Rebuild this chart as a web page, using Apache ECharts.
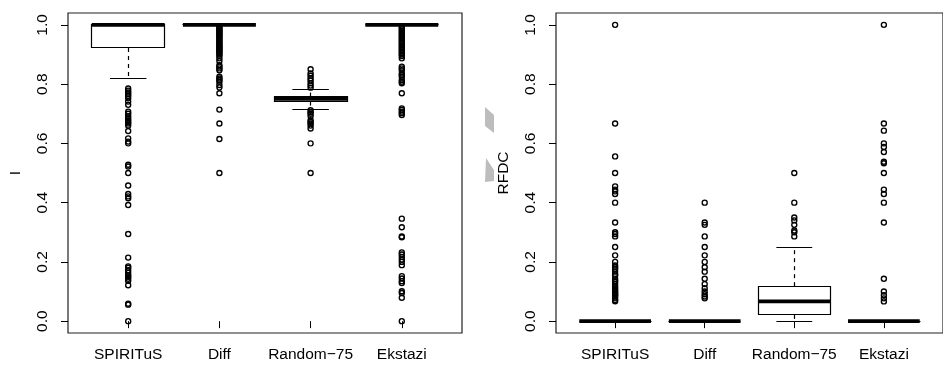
<!DOCTYPE html>
<html>
<head>
<meta charset="utf-8">
<script src="https://cdn.jsdelivr.net/npm/echarts@6/dist/echarts.min.js"></script>
<style>
html,body{margin:0;padding:0;background:#fff;}
#chart{width:943px;height:365px;}
</style>
</head>
<body>
<div id="chart"></div>
<script>
// ---- data ----
const categories = ['SPIRITuS', 'Diff', 'Random\u221275', 'Ekstazi'];
const yTicks = [0.0, 0.2, 0.4, 0.6, 0.8, 1.0];

// Left panel: I  (whisker low, Q1, median, Q3, whisker high)
const iLow  = [0.818, 1.0, 0.715, 1.0];
const iQ1   = [0.922, 1.0, 0.741, 1.0];
const iMed  = [1.0,   1.0, 0.750, 1.0];
const iQ3   = [1.0,   1.0, 0.758, 1.0];
const iHigh = [1.0,   1.0, 0.782, 1.0];

const iOutSPIRITuS = [0.785, 0.778, 0.772, 0.766, 0.76, 0.752, 0.741, 0.73, 0.707, 0.70, 0.692, 0.685, 0.678, 0.672, 0.667, 0.66, 0.642, 0.617, 0.606, 0.60, 0.528, 0.522, 0.50, 0.458, 0.429, 0.421, 0.415, 0.392, 0.294, 0.2145, 0.185, 0.18, 0.172, 0.163, 0.155, 0.15, 0.143, 0.136, 0.121, 0.0588, 0.0556, 0.0];
const iOutDiff = [0.995, 0.99, 0.986, 0.982, 0.978, 0.975, 0.971, 0.967, 0.963, 0.96, 0.955, 0.95, 0.946, 0.941, 0.937, 0.933, 0.929, 0.925, 0.921, 0.917, 0.913, 0.909, 0.905, 0.9, 0.895, 0.887, 0.878, 0.864, 0.859, 0.853, 0.847, 0.825, 0.819, 0.814, 0.808, 0.797, 0.789, 0.769, 0.714, 0.667, 0.615, 0.5];
const iOutRandom = [0.85, 0.836, 0.828, 0.82, 0.812, 0.803, 0.795, 0.788, 0.712, 0.705, 0.70, 0.692, 0.678, 0.672, 0.667, 0.66, 0.65, 0.60, 0.5];
const iOutEkstazi = [0.995, 0.99, 0.985, 0.98, 0.975, 0.97, 0.965, 0.96, 0.955, 0.95, 0.945, 0.94, 0.935, 0.93, 0.925, 0.92, 0.915, 0.91, 0.905, 0.9, 0.895, 0.887, 0.859, 0.853, 0.847, 0.836, 0.831, 0.825, 0.814, 0.808, 0.803, 0.769, 0.718, 0.713, 0.707, 0.702, 0.696, 0.346, 0.317, 0.286, 0.283, 0.232, 0.225, 0.217, 0.208, 0.2, 0.189, 0.152, 0.144, 0.135, 0.129, 0.101, 0.095, 0.079, 0.0];

// Right panel: RFDC
const rLow  = [0, 0, 0.0,   0];
const rQ1   = [0, 0, 0.021, 0];
const rMed  = [0, 0, 0.067, 0];
const rQ3   = [0, 0, 0.118, 0];
const rHigh = [0, 0, 0.25,  0];

const rOutSPIRITuS = [1.0, 0.667, 0.556, 0.5, 0.455, 0.444, 0.438, 0.429, 0.4, 0.333, 0.3, 0.294, 0.286, 0.25, 0.222, 0.2, 0.188, 0.182, 0.176, 0.167, 0.158, 0.154, 0.143, 0.136, 0.133, 0.125, 0.118, 0.111, 0.105, 0.1, 0.095, 0.091, 0.087, 0.083, 0.077, 0.071, 0.067];
const rOutDiff = [0.4, 0.333, 0.325, 0.286, 0.25, 0.222, 0.2, 0.182, 0.167, 0.143, 0.125, 0.111, 0.1, 0.091, 0.083, 0.077];
const rOutRandom = [0.5, 0.4, 0.35, 0.34, 0.325, 0.306, 0.3, 0.286];
const rOutEkstazi = [1.0, 0.667, 0.643, 0.6, 0.588, 0.571, 0.538, 0.533, 0.5, 0.444, 0.429, 0.4, 0.333, 0.143, 0.1, 0.0875, 0.077, 0.0667];

// ---- chart ----
const FONT = '"Liberation Sans", Arial, Helvetica, sans-serif';
const FS = 15.5;
const boxWex = 0.8;

function boxData(lo, q1, md, q3, hi) {
  return categories.map((c, i) => [i + 1, lo[i], q1[i], md[i], q3[i], hi[i]]);
}
function outData(lists) {
  const out = [];
  lists.forEach((arr, i) => arr.forEach(v => out.push([i + 1, v])));
  return out;
}
const px = v => Math.round(v - 0.5) + 0.5;

function renderBox(params, api) {
  const x = api.value(0);
  const lo = api.value(1), q1 = api.value(2), md = api.value(3), q3 = api.value(4), hi = api.value(5);
  const bw = api.size([boxWex, 0])[0];
  const half = bw / 2;
  const c = api.coord([x, md])[0];
  const yv = v => api.coord([x, v])[1];
  const cx = px(c);
  const lineStyle = { stroke: '#000', lineWidth: 1.2, fill: null };
  const dash = { stroke: '#000', lineWidth: 1.2, lineDash: [4, 4] };
  const children = [];
  if (hi > q3) children.push({ type: 'line', shape: { x1: cx, y1: yv(q3), x2: cx, y2: yv(hi) }, style: dash });
  if (lo < q1) children.push({ type: 'line', shape: { x1: cx, y1: yv(q1), x2: cx, y2: yv(lo) }, style: dash });
  children.push({ type: 'line', shape: { x1: c - half / 2, y1: px(yv(hi)), x2: c + half / 2, y2: px(yv(hi)) }, style: lineStyle });
  children.push({ type: 'line', shape: { x1: c - half / 2, y1: px(yv(lo)), x2: c + half / 2, y2: px(yv(lo)) }, style: lineStyle });
  const top = px(yv(q3)), bot = px(yv(q1));
  children.push({ type: 'rect', shape: { x: px(c - half), y: top, width: Math.round(bw), height: bot - top }, style: lineStyle });
  children.push({ type: 'line', shape: { x1: c - half, y1: yv(md), x2: c + half, y2: yv(md) }, style: { stroke: '#000', lineWidth: 3.8 } });
  return { type: 'group', children: children };
}

function xAxisCfg(gi) {
  return {
    type: 'value', gridIndex: gi, min: 0.34, max: 4.66,
    splitLine: { show: false },
    axisLine: { show: false },
    axisTick: { show: true, length: 7, customValues: [1, 2, 3, 4], lineStyle: { color: '#000', width: 1 } },
    axisLabel: {
      show: true, customValues: [1, 2, 3, 4], margin: 14,
      formatter: v => categories[Math.round(v) - 1] || '',
      color: '#000', fontFamily: FONT, fontSize: FS
    }
  };
}
function yAxisCfg(gi, name) {
  return {
    type: 'value', gridIndex: gi, min: -0.04, max: 1.04,
    name: name, nameLocation: 'middle', nameRotate: 90, nameGap: 44,
    nameTextStyle: { color: '#000', fontFamily: FONT, fontSize: FS },
    splitLine: { show: false },
    axisLine: { show: false },
    axisTick: { show: true, length: 7, customValues: yTicks, lineStyle: { color: '#000', width: 1 } },
    axisLabel: {
      show: true, customValues: yTicks, rotate: 90, margin: 17,
      formatter: v => v.toFixed(1),
      color: '#000', fontFamily: FONT, fontSize: FS
    }
  };
}

const scatterStyle = {
  symbol: 'circle', symbolSize: 5,
  itemStyle: { color: 'rgba(0,0,0,0)', borderColor: '#000', borderWidth: 1.4, opacity: 1 }
};

const option = {
  animation: false,
  backgroundColor: '#fff',
  grid: [
    { left: 68, top: 13, width: 394, height: 320, show: true, borderColor: '#222', borderWidth: 1.2, backgroundColor: 'transparent' },
    { left: 556, top: 13, width: 394, height: 320, show: true, borderColor: '#222', borderWidth: 1.2, backgroundColor: 'transparent' }
  ],
  xAxis: [xAxisCfg(0), xAxisCfg(1)],
  yAxis: [yAxisCfg(0, 'I'), yAxisCfg(1, 'RFDC')],
  graphic: [
    { type: 'polygon', shape: { points: [[485, 107], [494, 115], [494, 133], [485, 126]] }, style: { fill: '#bdbdbd' }, silent: true },
    { type: 'polygon', shape: { points: [[486, 158], [494, 170], [494, 181], [485, 182]] }, style: { fill: '#bdbdbd' }, silent: true }
  ],
  series: [
    { type: 'custom', xAxisIndex: 0, yAxisIndex: 0, data: boxData(iLow, iQ1, iMed, iQ3, iHigh), encode: { x: 0, y: [1, 2, 3, 4, 5] }, renderItem: renderBox, silent: true },
    Object.assign({ type: 'scatter', xAxisIndex: 0, yAxisIndex: 0, silent: true, data: outData([iOutSPIRITuS, iOutDiff, iOutRandom, iOutEkstazi]) }, scatterStyle),
    { type: 'custom', xAxisIndex: 1, yAxisIndex: 1, data: boxData(rLow, rQ1, rMed, rQ3, rHigh), encode: { x: 0, y: [1, 2, 3, 4, 5] }, renderItem: renderBox, silent: true },
    Object.assign({ type: 'scatter', xAxisIndex: 1, yAxisIndex: 1, silent: true, data: outData([rOutSPIRITuS, rOutDiff, rOutRandom, rOutEkstazi]) }, scatterStyle)
  ]
};

const chart = echarts.init(document.getElementById('chart'), null, { renderer: 'canvas' });
chart.setOption(option);
</script>
</body>
</html>
